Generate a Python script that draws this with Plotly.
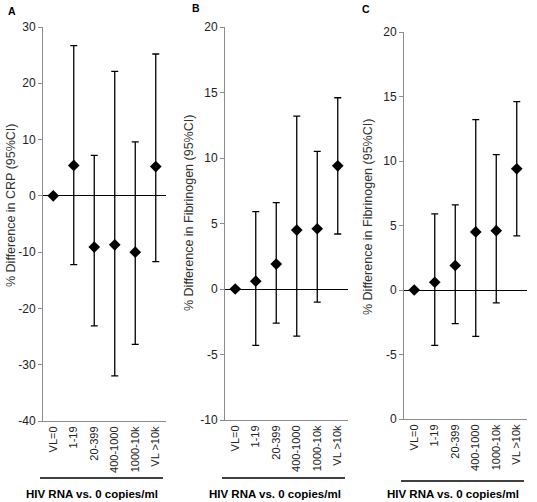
import plotly.graph_objects as go

categories = ["VL=0", "1-19", "20-399", "400-1000", "1000-10k", "VL >10k"]

crp_est = [0, 5.4, -9.1, -8.7, -10.0, 5.2]
crp_low = [0, -12.2, -23.1, -32.0, -26.4, -11.7]
crp_high = [0, 26.7, 7.2, 22.1, 9.6, 25.2]

fib_est = [0, 0.6, 1.9, 4.5, 4.6, 9.4]
fib_low = [0, -4.3, -2.6, -3.6, -1.0, 4.2]
fib_high = [0, 5.9, 6.6, 13.2, 10.5, 14.6]

W, H = 537, 502
FONT = "Liberation Sans, Arial, sans-serif"

fig = go.Figure()

panels = [
    ("", crp_est, crp_low, crp_high, 43, 166, 27, 421, [-40, 30],
     [-40, -30, -20, -10, 0, 10, 20, 30], ["-40", "-30", "-20", "-10", "0", "10", "20", "30"],
     "% Difference in CRP (95%CI)", "A", (12, 11), (11, 205)),
    ("2", fib_est, fib_low, fib_high, 225, 348, 27, 420, [-10, 20],
     [-10, -5, 0, 5, 10, 15, 20], ["-10", "-5", "0", "5", "10", "15", "20"],
     "% Difference in Fibrinogen (95%CI)", "B", (196, 8), (189, 213)),
    ("3", fib_est, fib_low, fib_high, 404, 527, 32, 419, [-10, 20],
     [-10, -5, 0, 5, 10, 15, 20], ["0", "-5", "0", "5", "10", "15", "20"],
     "% Difference in Fibrinogen (95%CI)", "C", (366, 9), (368, 217)),
]

line_y = {"": 478, "2": 478, "3": 481}
title_x = {"": 92, "2": 275, "3": 453}

for suf, est, low, high, l, r, t, b, yr, tv, tt, ytitle, lab, lpos, tpos in panels:
    xa = "x" + suf
    ya = "y" + suf
    plus = [h - e for h, e in zip(high, est)]
    minus = [e - lo for e, lo in zip(est, low)]
    fig.add_trace(go.Scatter(
        x=categories, y=est, mode="markers",
        marker=dict(symbol="diamond", size=9, color="black"),
        error_y=dict(type="data", symmetric=False, array=plus, arrayminus=minus,
                     color="black", thickness=1.3, width=3.5),
        xaxis=xa, yaxis=ya, showlegend=False, hoverinfo="skip",
    ))
    xkey = "xaxis" + suf
    ykey = "yaxis" + suf
    fig.layout[xkey] = dict(
        domain=[l / W, r / W], anchor=ya, type="category", automargin=False,
        range=[-0.5, 5.5], tickangle=-90, showline=True, linecolor="#8c8c8c",
        linewidth=1, ticks="", showgrid=False, zeroline=False,
        tickfont=dict(family=FONT, size=11, color="#222"),
        categoryorder="array", categoryarray=categories,
    )
    fig.layout[ykey] = dict(
        domain=[(H - b) / H, (H - t) / H], anchor=xa, range=yr, automargin=False,
        tickvals=tv, ticktext=tt, showline=True, linecolor="#8c8c8c",
        linewidth=1, ticks="outside", ticklen=4, tickcolor="#8c8c8c",
        showgrid=False, zeroline=True, zerolinecolor="black", zerolinewidth=1.2,
        tickfont=dict(family=FONT, size=12, color="#222"),
    )
    fig.add_annotation(x=tpos[0] / W, y=(H - tpos[1]) / H, xref="paper", yref="paper",
                       xanchor="center", yanchor="middle",
                       text=ytitle, textangle=-90, showarrow=False,
                       font=dict(family=FONT, size=12.5, color="#333"))
    fig.add_annotation(x=lpos[0] / W, y=(H - lpos[1]) / H, xref="paper", yref="paper",
                       xanchor="center", yanchor="middle",
                       text="<b>" + lab + "</b>", showarrow=False,
                       font=dict(family=FONT, size=10.5, color="black"))
    fig.add_shape(type="line", xref="paper", yref="paper",
                  x0=(l - 3) / W, x1=(r - 3) / W,
                  y0=(H - line_y[suf]) / H, y1=(H - line_y[suf]) / H,
                  line=dict(color="black", width=1.3))
    fig.add_annotation(x=title_x[suf] / W, y=(H - 494) / H, xref="paper", yref="paper",
                       xanchor="center", yanchor="middle",
                       text="<b>HIV RNA vs. 0 copies/ml</b>", showarrow=False,
                       font=dict(family=FONT, size=11.5, color="black"))

fig.update_layout(
    width=W, height=H, margin=dict(l=0, r=0, t=0, b=0, autoexpand=False),
    paper_bgcolor="white", plot_bgcolor="white", hovermode=False,
)

fig.write_html("out.html", config={"displayModeBar": False},
               post_script="document.body.style.margin='0';document.body.style.overflow='hidden';")
